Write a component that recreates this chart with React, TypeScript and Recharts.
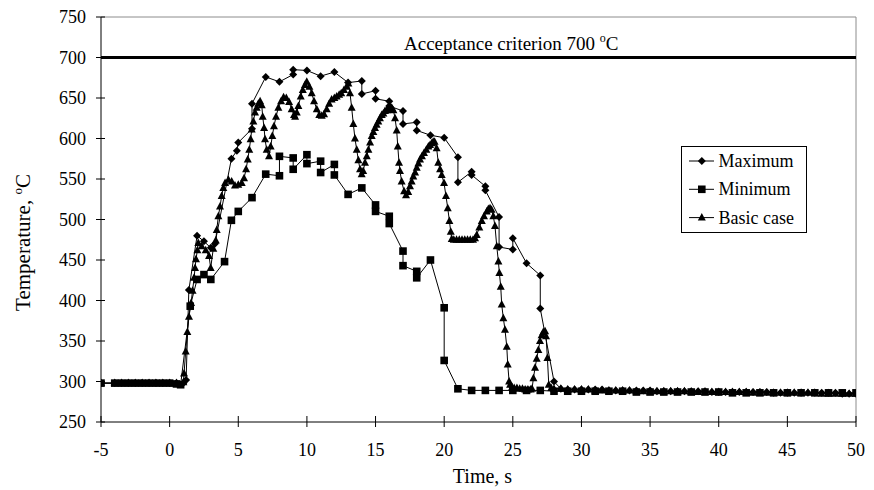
import React from 'react';
import { LineChart, Line, XAxis, YAxis, ReferenceLine, Legend } from 'recharts';

const FONT = '"Liberation Serif", "Times New Roman", serif';

const xTicks = [-5, 0, 5, 10, 15, 20, 25, 30, 35, 40, 45, 50];
const yTicks = [250, 300, 350, 400, 450, 500, 550, 600, 650, 700, 750];
const criterion = 700;
const seriesNames = ['Maximum', 'Minimum', 'Basic case'];

const maximumPts: [number, number][] = [
  [-5, 298], [-4, 298], [-3.5, 298], [-3, 298], [-2.5, 298], [-2, 298], [-1.5, 298], [-1, 298], [-0.5, 298], [0, 298], [0.5, 298], [1, 298],
  [1.2, 302], [1.4, 413], [2, 480], [2.5, 473], [3, 465], [3.3, 470], [4.5, 575], [4.9, 585], [5, 595],
  [6, 612], [6, 643], [7, 676], [8, 670], [9, 679], [9, 685], [10, 684], [11, 677], [12, 682], [13, 669],
  [14, 671], [14, 655], [15, 659], [15, 649], [16, 646], [16, 640], [17, 634], [17, 618], [18, 620], [18, 610],
  [19, 604], [20, 601], [21, 577], [21, 546], [22, 559], [22, 555], [23, 541], [23, 536], [24, 503], [24, 466],
  [25, 463], [25, 477], [26, 446], [27, 431], [27, 390], [28, 300],
  [28.5, 291], [29, 290], [29.5, 290], [30, 290], [30.5, 290], [31, 290], [31.5, 290], [32, 289], [32.5, 289], [33, 289],
  [33.5, 289], [34, 289], [34.5, 289], [35, 289], [35.5, 288], [36, 288], [36.5, 288], [37, 288], [37.5, 288], [38, 288],
  [38.5, 288], [39, 288], [39.5, 287], [40, 287], [40.5, 287], [41, 287], [41.5, 287], [42, 287], [42.5, 287], [43, 287],
  [43.5, 287], [44, 286], [44.5, 286], [45, 286], [45.5, 286], [46, 286], [46.5, 286], [47, 286], [47.5, 286], [48, 286],
  [48.5, 286], [49, 285], [49.5, 285], [50, 285],
];

const minimumPts: [number, number][] = [
  [-5, 298], [-4, 298], [-3.5, 298], [-3, 298], [-2.5, 298], [-2, 298], [-1.5, 298], [-1, 298], [-0.5, 298], [0, 298], [0.5, 297], [0.8, 296],
  [1.5, 393], [2, 426], [2.5, 432], [3, 426], [4, 448], [4.5, 499], [5, 510], [6, 527], [7, 556],
  [8, 554], [8, 578], [9, 576], [9, 562], [10, 580], [10, 569], [11, 572], [11, 558], [12, 568], [12, 555],
  [13, 531], [14, 539], [15, 518], [15, 510], [16, 504], [16, 495], [17, 461], [17, 443], [18, 436], [18, 428],
  [19, 450], [20, 391], [20, 326], [21, 291], [22, 289], [23, 289], [24, 289], [25, 289], [26, 289], [27, 289],
  [28, 288], [29, 288], [30, 288], [31, 288], [32, 288], [33, 288], [34, 287], [35, 287], [36, 287], [37, 287],
  [38, 287], [39, 287], [40, 287], [41, 286], [42, 286], [43, 286], [44, 286], [45, 286], [46, 286], [47, 286],
  [48, 286], [49, 286], [50, 286],
];

const basicPts: [number, number][] = [
  [-5, 298], [-4, 298], [-3.5, 298], [-3, 298], [-2.5, 298], [-2, 298], [-1.5, 298], [-1, 298], [-0.5, 298], [0, 298], [0.5, 298], [1, 299],
  [1.05, 310], [1.17, 337], [1.29, 361], [1.41, 380], [1.56, 397], [1.67, 412], [1.78, 428], [1.85, 440], [1.92, 451], [2.02, 462], [2.09, 471],
  [2.34, 467], [2.63, 462], [2.87, 455], [2.99, 440], [3.18, 464], [3.36, 474], [3.43, 487], [3.55, 504], [3.67, 516], [3.79, 529], [3.91, 539],
  [4.04, 545], [4.28, 549], [4.52, 547], [4.76, 542], [5.0, 543], [5.25, 545], [5.42, 551], [5.57, 562], [5.69, 574], [5.8, 586], [5.9, 599],
  [5.98, 611], [6.1, 621], [6.22, 632], [6.34, 638], [6.46, 643], [6.59, 646], [6.71, 641], [6.78, 627], [6.88, 613], [6.95, 599], [7.07, 586],
  [7.24, 578], [7.36, 590], [7.48, 603], [7.6, 615], [7.75, 627], [7.92, 638], [8.12, 646], [8.3, 651], [8.5, 650], [8.7, 645], [8.89, 636],
  [9.06, 629], [9.14, 627], [9.26, 632], [9.38, 640], [9.55, 652], [9.7, 660], [9.86, 666], [9.99, 670], [10.18, 664], [10.35, 656], [10.52, 646],
  [10.72, 636], [10.9, 629], [11.08, 628], [11.25, 630], [11.44, 636], [11.62, 643], [11.8, 648], [12.0, 650], [12.17, 652], [12.35, 654],
  [12.5, 656], [12.7, 660], [12.9, 664], [13.02, 668], [13.14, 656], [13.26, 638], [13.38, 618], [13.5, 600], [13.63, 586], [13.75, 573],
  [13.87, 562], [13.99, 556], [14.1, 560], [14.23, 570], [14.36, 578], [14.48, 586], [14.6, 595], [14.72, 603], [14.84, 608], [14.96, 613],
  [15.08, 617], [15.2, 621], [15.32, 625], [15.45, 629], [15.57, 631], [15.69, 634], [15.81, 635], [15.93, 636], [16.05, 637], [16.18, 638],
  [16.3, 635], [16.42, 625], [16.54, 610], [16.62, 590], [16.71, 570], [16.78, 560], [16.9, 547], [17.08, 535], [17.22, 530], [17.38, 534],
  [17.51, 541], [17.63, 547], [17.75, 553], [17.88, 558], [18.0, 564], [18.12, 569], [18.24, 574], [18.38, 578], [18.53, 582], [18.7, 586],
  [18.85, 590], [18.97, 592], [19.09, 594], [19.2, 596], [19.3, 596], [19.45, 588], [19.57, 570], [19.7, 562], [19.82, 555], [19.99, 545],
  [20.13, 529], [20.26, 514], [20.38, 498], [20.48, 485], [20.55, 476], [20.7, 475], [20.9, 475], [21.1, 475], [21.3, 475], [21.5, 475],
  [21.7, 475], [21.9, 475], [22.1, 475], [22.25, 477], [22.37, 481], [22.56, 490], [22.74, 498], [22.9, 504], [23.1, 510], [23.22, 513],
  [23.34, 514], [23.45, 512], [23.58, 504], [23.7, 492], [23.83, 467], [23.95, 448], [24.02, 434], [24.12, 417], [24.19, 395], [24.31, 378],
  [24.43, 364], [24.56, 343], [24.63, 321], [24.73, 300], [24.8, 296], [24.95, 293], [25.1, 292], [25.3, 292], [25.5, 291], [25.7, 291],
  [25.9, 290], [26.1, 290], [26.3, 290], [26.4, 291], [26.5, 304], [26.62, 317], [26.74, 328], [26.86, 339], [26.98, 350], [27.1, 357],
  [27.22, 361], [27.35, 362], [27.42, 356], [27.52, 329], [27.62, 296], [27.8, 292], [28, 291],
  [28.5, 291], [29, 290], [29.5, 290], [30, 290], [30.5, 290], [31, 289], [31.5, 289], [32, 289], [32.5, 289], [33, 289],
  [33.5, 289], [34, 288], [34.5, 288], [35, 288], [35.5, 288], [36, 288], [36.5, 288], [37, 288], [37.5, 288], [38, 287],
  [38.5, 287], [39, 287], [39.5, 287], [40, 287], [40.5, 287], [41, 287], [41.5, 287], [42, 287], [42.5, 286], [43, 286],
  [43.5, 286], [44, 286], [44.5, 286], [45, 286], [45.5, 286], [46, 286], [46.5, 286], [47, 286], [47.5, 285], [48, 285],
  [48.5, 285], [49, 285], [49.5, 285], [50, 285],
];

const toRows = (pts: [number, number][]) => pts.map(([t, v]) => ({ t, v }));
const maxRows = toRows(maximumPts);
const minRows = toRows(minimumPts);
const basicRows = toRows(basicPts);

type Shape = 'diamond' | 'square' | 'triangle';

const Marker = ({ cx, cy, shape }: { cx: number; cy: number; shape: Shape }) => {
  if (shape === 'diamond') {
    const r = 4;
    return <polygon points={`${cx},${cy - r} ${cx + r},${cy} ${cx},${cy + r} ${cx - r},${cy}`} fill="#000" />;
  }
  if (shape === 'square') {
    const h = 3.8;
    return <rect x={cx - h} y={cy - h} width={2 * h} height={2 * h} fill="#000" />;
  }
  return <polygon points={`${cx},${cy - 4.5} ${cx + 4},${cy + 3} ${cx - 4},${cy + 3}`} fill="#000" />;
};

const makeDot = (shape: Shape) => (p: any) => {
  if (p.cx == null || p.cy == null) return <g key={p.index} />;
  return <Marker key={p.index} cx={p.cx} cy={p.cy} shape={shape} />;
};

const XTick = (p: any) => {
  const { x, y, payload } = p;
  return (
    <g>
      <line x1={x} x2={x} y1={y - 6} y2={y + 5} stroke="#000" strokeWidth={1} />
      <text x={x} y={y + 34} textAnchor="middle" fontFamily={FONT} fontSize={18} fill="#000">
        {payload.value}
      </text>
    </g>
  );
};

const YTick = (p: any) => {
  const { x, y, payload } = p;
  return (
    <g>
      <line x1={x - 5} x2={x + 4} y1={y} y2={y} stroke="#000" strokeWidth={1} />
      <text x={x - 15} y={y + 6} textAnchor="end" fontFamily={FONT} fontSize={18} fill="#000">
        {payload.value}
      </text>
    </g>
  );
};

const YTitle = (p: any) => {
  const vb = p.viewBox || { x: 0, y: 17, width: 101, height: 405 };
  const x = vb.x + 29.5;
  const y = vb.y + vb.height / 2 + 23;
  return (
    <text x={x} y={y} transform={`rotate(-90, ${x}, ${y})`} textAnchor="middle" fontFamily={FONT} fontSize={21} fill="#000">
      {'Temperature, '}
      <tspan dy={-8} fontSize={13}>o</tspan>
      <tspan dy={8}>C</tspan>
    </text>
  );
};

const XTitle = (p: any) => {
  const vb = p.viewBox || { x: 101, y: 422, width: 755, height: 68 };
  return (
    <text x={vb.x + vb.width / 2 + 4} y={vb.y + 61} textAnchor="middle" fontFamily={FONT} fontSize={20} fill="#000">
      Time, s
    </text>
  );
};

const CriterionLabel = (p: any) => {
  const vb = p.viewBox || { x: 101, y: 59 };
  return (
    <text x={vb.x + 303} y={vb.y - 7.5} fontFamily={FONT} fontSize={19} fill="#000">
      {`Acceptance criterion ${criterion} `}
      <tspan dy={-8} fontSize={12}>o</tspan>
      <tspan dy={8}>C</tspan>
    </text>
  );
};

const shapes: Shape[] = ['diamond', 'square', 'triangle'];

const LegendBox = (p: any) => {
  const payload = (p.payload || []).filter((e: any) => seriesNames.includes(e.value));
  const ordered = seriesNames.map((n) => payload.find((e: any) => e.value === n)).filter(Boolean);
  return (
    <svg width={127} height={88} style={{ display: 'block' }}>
      <rect x={0.5} y={0.5} width={125} height={86} fill="#fff" stroke="#000" strokeWidth={1} />
      {ordered.map((e: any, i: number) => {
        const cy = 15 + i * 28.3;
        return (
          <g key={e.value}>
            <line x1={8} x2={33} y1={cy} y2={cy} stroke="#000" strokeWidth={1} />
            <Marker cx={20.8} cy={cy} shape={shapes[i]} />
            <text x={37.5} y={cy + 6} fontFamily={FONT} fontSize={18} fill="#000">
              {e.value}
            </text>
          </g>
        );
      })}
    </svg>
  );
};

export default function App() {
  return (
    <div style={{ position: 'absolute', left: 0, top: 0 }}>
      <LineChart width={874} height={490} margin={{ top: 17, right: 18, left: 0, bottom: 0 }}>
        <XAxis
          dataKey="t"
          type="number"
          domain={[-5, 50]}
          ticks={xTicks}
          allowDataOverflow
          height={68}
          tickLine={false}
          tickSize={0}
          tickMargin={0}
          axisLine={{ stroke: '#000', strokeWidth: 1 }}
          tick={<XTick />}
          interval={0}
          label={<XTitle />}
        />
        <YAxis
          type="number"
          domain={[250, 750]}
          ticks={yTicks}
          allowDataOverflow
          width={101}
          tickLine={false}
          tickSize={0}
          tickMargin={0}
          axisLine={{ stroke: '#000', strokeWidth: 1 }}
          tick={<YTick />}
          interval={0}
          label={<YTitle />}
        />
        <ReferenceLine y={750} stroke="#8c8c8c" strokeWidth={1} />
        <ReferenceLine x={50} stroke="#8c8c8c" strokeWidth={1} />
        <ReferenceLine y={criterion} stroke="#000" strokeWidth={3} label={<CriterionLabel />} />
        <Legend
          layout="vertical"
          align="center"
          verticalAlign="middle"
          content={<LegendBox />}
          wrapperStyle={{ left: 681, top: 146, width: 127, height: 88 }}
        />
        <Line data={maxRows} dataKey="v" name={seriesNames[0]} type="linear" stroke="#000" strokeWidth={1} dot={makeDot('diamond')} activeDot={false} isAnimationActive={false} />
        <Line data={minRows} dataKey="v" name={seriesNames[1]} type="linear" stroke="#000" strokeWidth={1} dot={makeDot('square')} activeDot={false} isAnimationActive={false} />
        <Line data={basicRows} dataKey="v" name={seriesNames[2]} type="linear" stroke="#000" strokeWidth={1} dot={makeDot('triangle')} activeDot={false} isAnimationActive={false} />
      </LineChart>
    </div>
  );
}
